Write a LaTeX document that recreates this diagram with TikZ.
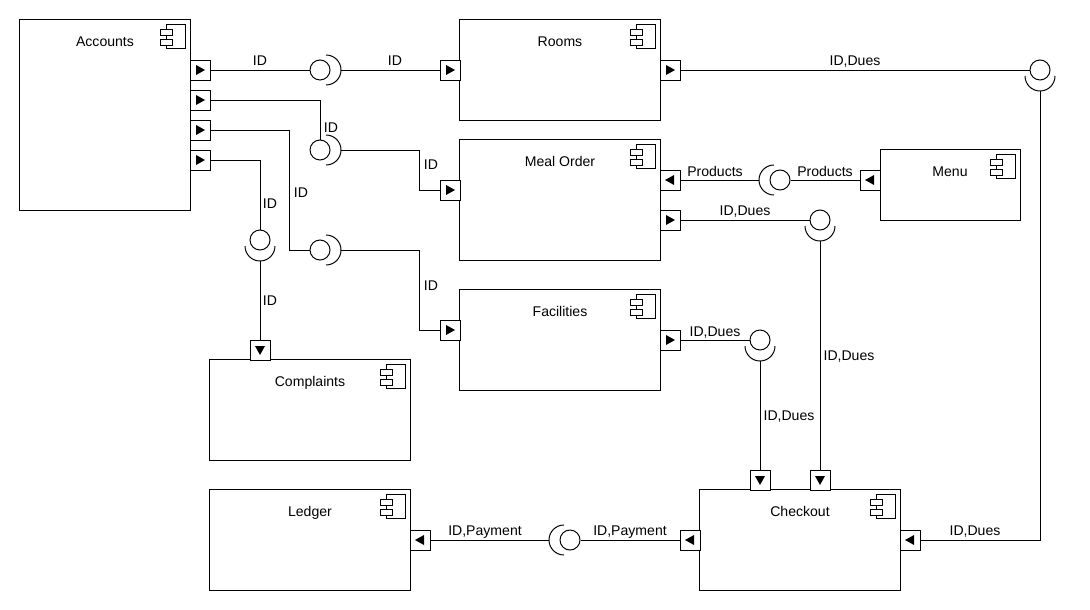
\documentclass[tikz,border=0pt]{standalone}
\usepackage{fontspec}
\setmainfont{Liberation Sans}
\usetikzlibrary{calc}

% component icon in the top right corner of a box
\newcommand{\compicon}[1]{%
  \draw[line width=0.6pt] ([shift={(-24,-5)}]#1.north east) rectangle ([shift={(-5,-29)}]#1.north east);
  \draw[line width=0.6pt,fill=white] ([shift={(-30,-10)}]#1.north east) rectangle ([shift={(-18,-16)}]#1.north east);
  \draw[line width=0.6pt,fill=white] ([shift={(-30,-20)}]#1.north east) rectangle ([shift={(-18,-26)}]#1.north east);
}

\tikzset{
  comp/.style={draw,line width=0.7pt,fill=white,inner sep=0pt},
  portbox/.style={draw,line width=0.7pt,fill=white,minimum size=0.5cm,inner sep=0pt},
  ball/.style={draw,circle,line width=0.7pt,fill=white,minimum size=0.5cm,inner sep=0pt},
  wire/.style={line width=0.7pt},
  lbl/.style={font=\fontsize{10}{12}\selectfont,anchor=base,inner sep=1pt},
}

\begin{document}
\begin{tikzpicture}[x=0.025cm,y=0.025cm]

    \path[fill=white,use as bounding box] (0,0) rectangle (1090,-610);

    % ════════ components ════════
    \foreach \n/\t/\x/\y/\w/\h in {acc/Accounts/105/-115/4.25/4.75,
        rooms/Rooms/560/-70/5/2.5, meal/Meal Order/560/-200/5/3,
        menu/Menu/950/-185/3.5/1.75, fac/Facilities/560/-340/5/2.5,
        compl/Complaints/310/-410/5/2.5, ledger/Ledger/310/-540/5/2.5,
        chk/Checkout/800/-540/5/2.5}{
      \node[comp,minimum width=\w cm,minimum height=\h cm] (\n) at (\x,\y){};
      \node[lbl] (\n T) at ([yshift=-0.675cm]\n.north){\t};
      \compicon{\n}
    }

    % ════════ ports (box + triangle) ════════
    \foreach \n/\x/\y/\r in {pA1/200/-70/0, pA2/200/-100/0, pA3/200/-130/0,
        pA4/200/-160/0, pR1/450/-70/0, pR2/670/-70/0, pM1/450/-190/0,
        pM2/670/-180/180, pM3/670/-220/0, pMn/870/-180/180, pF1/450/-330/0,
        pF2/670/-340/0, pC1/260/-350/-90, pL1/420/-540/180,
        pK1/760/-480/-90, pK2/820/-480/-90, pK3/910/-540/180, pK4/690/-540/180}{
      \node[portbox] (\n) at (\x,\y){};
      \fill[shift={(\n.center)},rotate=\r] (-4,5) -- (-4,-5) -- (5,0) -- cycle;
    }

    % ════════ interfaces (ball + socket) ════════
    \foreach \n/\x/\y in {b1/320/-70, b2/320/-150, b3/320/-250, b4/260/-240,
        b5/1040/-70, b6/780/-180, b7/820/-220, b8/760/-340, b9/570/-540}
      \node[ball] (\n) at (\x,\y){};
    \foreach \b/\a in {1/0, 2/0, 3/0, 4/-90, 5/-90, 7/-90, 8/-90, 6/180, 9/180}{
      \draw[wire] ([shift={(\a:6)}]b\b.center) ++(\a+90:15)
        arc[start angle=\a+90,delta angle=-180,radius=0.375cm];
      \coordinate (s\b) at ([shift={(\a:21)}]b\b.center);
    }

    % ════════ connectors ════════
    \draw[wire] (pA1) -- (b1);
    \draw[wire] (s1) -- (pR1);
    \draw[wire] (pA2) -| (b2);
    \draw[wire] (s2) -| ([xshift=-0.5cm]pM1.west) -- (pM1);
    \draw[wire] (pA3) -| ([xshift=-0.5cm]b3.west) -- (b3);
    \draw[wire] (s3) -| ([xshift=-0.5cm]pF1.west) -- (pF1);
    \draw[wire] (pA4) -| (b4);
    \draw[wire] (s4) -- (pC1);
    \draw[wire] (pR2) -- (b5);
    \draw[wire] (s5) |- (pK3);
    \draw[wire] (pM2) -- (s6);
    \draw[wire] (b6) -- (pMn);
    \draw[wire] (pM3) -- (b7);
    \draw[wire] (s7) -- (pK2);
    \draw[wire] (pF2) -- (b8);
    \draw[wire] (s8) -- (pK1);
    \draw[wire] (pK4) -- (b9);
    \draw[wire] (s9) -- (pL1);

    % labels
    \foreach \n/\x/\y/\t in {l1/260/-66/ID, l2/395/-66/ID, l3/331/-133/ID,
        l4/431/-170/ID, l5/301/-197/ID, l6/431/-290/ID, l7/270/-208/ID,
        l8/270/-305/ID, l9/855/-66/{ID,Dues}, l10/715/-176/Products,
        l11/825/-176/Products, l12/745/-216/{ID,Dues}, l13/715/-336/{ID,Dues},
        l14/789/-420/{ID,Dues}, l15/849/-360/{ID,Dues}, l16/975/-535/{ID,Dues},
        l17/485/-535/{ID,Payment}, l18/630/-535/{ID,Payment}}
      \node[lbl] (\n) at (\x,\y){\t};

\end{tikzpicture}
\end{document}
